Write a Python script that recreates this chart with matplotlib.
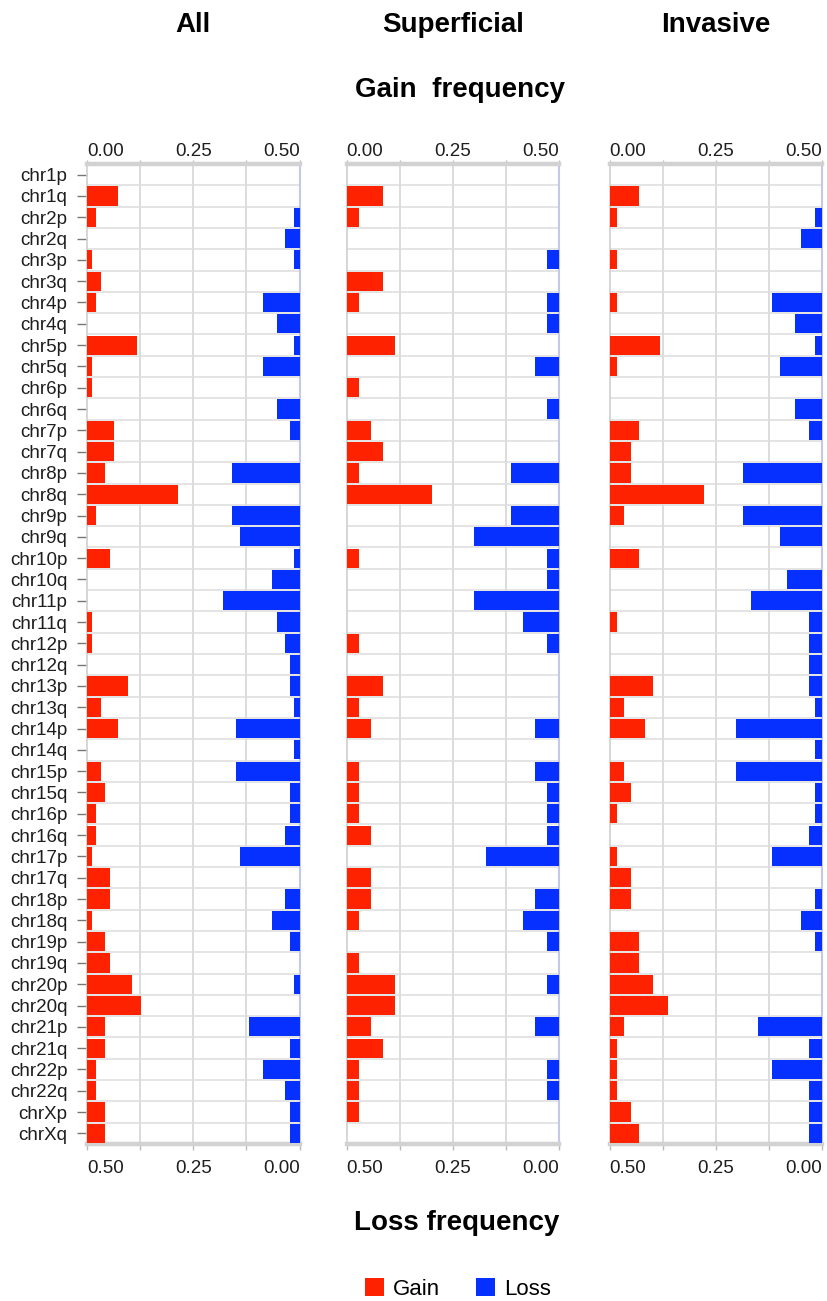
import numpy as np
import matplotlib
matplotlib.use('Agg')
import matplotlib.pyplot as plt
from matplotlib.patches import Patch

plt.rcParams['font.family'] = ['Liberation Sans', 'DejaVu Sans']

arms = ['chr1p', 'chr1q', 'chr2p', 'chr2q', 'chr3p', 'chr3q', 'chr4p', 'chr4q',
        'chr5p', 'chr5q', 'chr6p', 'chr6q', 'chr7p', 'chr7q', 'chr8p', 'chr8q',
        'chr9p', 'chr9q', 'chr10p', 'chr10q', 'chr11p', 'chr11q', 'chr12p', 'chr12q',
        'chr13p', 'chr13q', 'chr14p', 'chr14q', 'chr15p', 'chr15q', 'chr16p', 'chr16q',
        'chr17p', 'chr17q', 'chr18p', 'chr18q', 'chr19p', 'chr19q', 'chr20p', 'chr20q',
        'chr21p', 'chr21q', 'chr22p', 'chr22q', 'chrXp', 'chrXq']

groups = ['All', 'Superficial', 'Invasive']

gain_all = [0.000, 0.074, 0.022, 0.000, 0.012, 0.032, 0.022, 0.000,
            0.118, 0.012, 0.012, 0.000, 0.064, 0.064, 0.042, 0.213,
            0.022, 0.000, 0.053, 0.000, 0.000, 0.012, 0.012, 0.000,
            0.096, 0.032, 0.074, 0.000, 0.032, 0.042, 0.022, 0.022,
            0.012, 0.053, 0.053, 0.012, 0.042, 0.053, 0.106, 0.127,
            0.042, 0.042, 0.022, 0.022, 0.042, 0.042]
loss_all = [0.000, 0.000, 0.012, 0.033, 0.012, 0.000, 0.085, 0.053,
            0.012, 0.085, 0.000, 0.053, 0.022, 0.000, 0.159, 0.000,
            0.159, 0.139, 0.012, 0.064, 0.180, 0.053, 0.033, 0.022,
            0.022, 0.012, 0.149, 0.012, 0.149, 0.022, 0.022, 0.033,
            0.139, 0.000, 0.033, 0.064, 0.022, 0.000, 0.012, 0.000,
            0.118, 0.022, 0.085, 0.033, 0.022, 0.022]

gain_sup = [0.000, 0.086, 0.028, 0.000, 0.000, 0.086, 0.028, 0.000,
            0.114, 0.000, 0.028, 0.000, 0.057, 0.086, 0.028, 0.200,
            0.000, 0.000, 0.028, 0.000, 0.000, 0.000, 0.028, 0.000,
            0.086, 0.028, 0.057, 0.000, 0.028, 0.028, 0.028, 0.057,
            0.000, 0.057, 0.057, 0.028, 0.000, 0.028, 0.114, 0.114,
            0.057, 0.086, 0.028, 0.028, 0.028, 0.000]
loss_sup = [0.000, 0.000, 0.000, 0.000, 0.028, 0.000, 0.028, 0.028,
            0.000, 0.057, 0.000, 0.028, 0.000, 0.000, 0.114, 0.000,
            0.114, 0.200, 0.028, 0.028, 0.200, 0.086, 0.028, 0.000,
            0.000, 0.000, 0.057, 0.000, 0.057, 0.028, 0.028, 0.028,
            0.172, 0.000, 0.057, 0.086, 0.028, 0.000, 0.028, 0.000,
            0.057, 0.000, 0.028, 0.028, 0.000, 0.000]

gain_inv = [0.000, 0.068, 0.016, 0.000, 0.016, 0.000, 0.016, 0.000,
            0.119, 0.016, 0.000, 0.000, 0.068, 0.050, 0.050, 0.221,
            0.033, 0.000, 0.068, 0.000, 0.000, 0.016, 0.000, 0.000,
            0.102, 0.033, 0.084, 0.000, 0.033, 0.050, 0.016, 0.000,
            0.016, 0.050, 0.050, 0.000, 0.068, 0.068, 0.102, 0.136,
            0.033, 0.016, 0.016, 0.016, 0.050, 0.068]
loss_inv = [0.000, 0.000, 0.016, 0.050, 0.000, 0.000, 0.117, 0.065,
            0.016, 0.100, 0.000, 0.065, 0.032, 0.000, 0.186, 0.000,
            0.186, 0.100, 0.000, 0.083, 0.168, 0.032, 0.032, 0.032,
            0.032, 0.016, 0.202, 0.016, 0.202, 0.016, 0.016, 0.032,
            0.117, 0.000, 0.016, 0.050, 0.016, 0.000, 0.000, 0.000,
            0.151, 0.032, 0.117, 0.032, 0.032, 0.032]

gains = [gain_all, gain_sup, gain_inv]
losses = [loss_all, loss_sup, loss_inv]

RED = '#ff2200'
BLUE = '#0530ff'
GRID = '#dcdcdc'
TXT = '#1e1e1e'

W, H = 827, 1301
fig = plt.figure(figsize=(W / 100, H / 100), dpi=100)

lefts = [87, 346.7, 609.7]
pw = 212.5
top, bottom = 164, 1144
y = np.arange(len(arms))

for i, ax_left in enumerate(lefts):
    ax = fig.add_axes([ax_left / W, 1 - bottom / H, pw / W, (bottom - top) / H])
    g = np.array(gains[i])
    l = np.array(losses[i])
    ax.barh(y, g, left=0, height=0.9, color=RED, zorder=3)
    ax.barh(y, l, left=0.5 - l, height=0.9, color=BLUE, zorder=3)

    ax.set_xlim(0, 0.5)
    ax.set_ylim(len(arms) - 0.5, -0.5)
    for k in range(len(arms) - 1):
        ax.axhline(k + 0.5, color=GRID, lw=1.1, zorder=1)
    for xv in [0.125, 0.25, 0.375]:
        ax.axvline(xv, color=GRID, lw=1.4, zorder=1)

    # gain scale on top
    ax.xaxis.tick_top()
    ax.set_xticks([0, 0.25, 0.5])
    ax.set_xticks([0.125, 0.375], minor=True)
    ax.set_xticklabels(['0.00', '0.25', '0.50'])
    ax.tick_params(axis='x', which='both', colors='#bbbbbb', length=3, width=1,
                   pad=0, labelsize=13.5, labelcolor=TXT)
    # keep the end labels inside the panel width
    for t, ha in zip(ax.xaxis.get_major_ticks(), ['left', 'center', 'right']):
        t.label1.set_horizontalalignment(ha)
        t.label2.set_horizontalalignment(ha)

    # loss scale on bottom, running the other way
    sec = ax.secondary_xaxis('bottom', functions=(lambda v: 0.5 - v, lambda v: 0.5 - v))
    sec.set_xticks([0, 0.25, 0.5])
    sec.set_xticks([0.125, 0.375], minor=True)
    sec.set_xticklabels(['0.00', '0.25', '0.50'])
    sec.tick_params(axis='x', which='both', colors='#bbbbbb', length=4, width=1,
                    pad=7.5, labelsize=13.5, labelcolor=TXT)
    for t, ha in zip(sec.xaxis.get_major_ticks(), ['right', 'center', 'left']):
        t.label1.set_horizontalalignment(ha)
    sec.spines['bottom'].set_visible(False)

    ax.spines['top'].set_color('#d2d2d2')
    ax.spines['top'].set_linewidth(3.2)
    ax.spines['bottom'].set_color('#d2d2d2')
    ax.spines['bottom'].set_linewidth(3.2)
    ax.spines['left'].set_color('#cfcfcf')
    ax.spines['left'].set_linewidth(1.2)
    ax.spines['right'].set_color('#c6c8e8')
    ax.spines['right'].set_linewidth(1.5)

    if i == 0:
        ax.set_yticks(y)
        ax.set_yticklabels(arms)
        ax.tick_params(axis='y', colors='#777777', length=7, width=1, pad=7,
                       labelsize=13.5, labelcolor=TXT)
    else:
        ax.set_yticks([])

    fig.text((ax_left + pw / 2) / W, 1 - 25 / H, groups[i], ha='center', va='center',
             fontsize=20, fontweight='bold', color='black')

fig.text(460 / W, 1 - 90 / H, 'Gain  frequency', ha='center', va='center',
         fontsize=20, fontweight='bold', color='black')
fig.text(457 / W, 1 - 1223 / H, 'Loss frequency', ha='center', va='center',
         fontsize=20, fontweight='bold', color='black')

handles = [Patch(facecolor=RED, label='Gain'), Patch(facecolor=BLUE, label='Loss')]
fig.legend(handles=handles, loc='center', bbox_to_anchor=(458 / W, 1 - 1289 / H),
           ncol=2, frameon=False, fontsize=16, handlelength=0.85, handleheight=0.85,
           handletextpad=0.4, columnspacing=1.6, borderpad=0)

fig.savefig('out.png', dpi=100)
